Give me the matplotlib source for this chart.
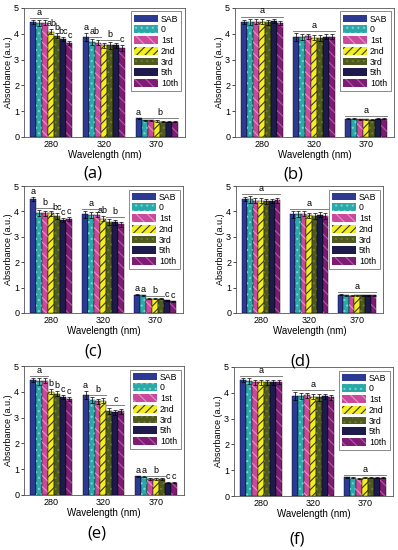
import numpy as np
import matplotlib
matplotlib.use("Agg")
import matplotlib.pyplot as plt

plt.rcParams['font.family'] = ['Liberation Sans', 'DejaVu Sans']
plt.rcParams['hatch.linewidth'] = 0.8

# Data
wavelengths = ['280', '320', '370']
series = ['SAB', '0', '1st', '2nd', '3rd', '5th', '10th']

# values[panel] -> rows = wavelength group, cols = series
vals_a = [[4.47, 4.42, 4.43, 4.08, 3.93, 3.80, 3.65],
          [3.88, 3.68, 3.66, 3.55, 3.55, 3.55, 3.45],
          [0.72, 0.65, 0.65, 0.62, 0.60, 0.60, 0.60]]
vals_b = [[4.47, 4.47, 4.47, 4.47, 4.45, 4.48, 4.42],
          [3.88, 3.87, 3.90, 3.85, 3.85, 3.88, 3.88],
          [0.70, 0.70, 0.68, 0.68, 0.66, 0.70, 0.70]]
vals_c = [[4.48, 3.92, 3.92, 3.92, 3.82, 3.65, 3.70],
          [3.88, 3.87, 3.87, 3.72, 3.57, 3.57, 3.50],
          [0.72, 0.70, 0.57, 0.57, 0.57, 0.50, 0.47]]
vals_d = [[4.48, 4.47, 4.42, 4.42, 4.40, 4.40, 4.43],
          [3.88, 3.88, 3.90, 3.85, 3.82, 3.87, 3.82],
          [0.72, 0.70, 0.68, 0.70, 0.70, 0.70, 0.70]]
vals_e = [[4.47, 4.40, 4.43, 4.00, 3.92, 3.80, 3.72],
          [3.88, 3.67, 3.63, 3.65, 3.27, 3.20, 3.25],
          [0.72, 0.70, 0.62, 0.62, 0.62, 0.48, 0.47]]
vals_f = [[4.48, 4.45, 4.40, 4.40, 4.40, 4.40, 4.42],
          [3.88, 3.88, 3.90, 3.85, 3.82, 3.87, 3.82],
          [0.72, 0.70, 0.66, 0.70, 0.70, 0.70, 0.70]]

# error bars (estimated)
errs = [[0.08, 0.12, 0.10, 0.10, 0.10, 0.08, 0.08],
        [0.15, 0.12, 0.10, 0.10, 0.12, 0.10, 0.10],
        [0.02, 0.02, 0.02, 0.02, 0.02, 0.02, 0.02]]

# significance letters: (group, first bar, last bar, letter)
sig_a = [(0, 0, 2, 'a'), (0, 3, 3, 'ab'), (0, 4, 4, 'b'), (0, 5, 5, 'bc'), (0, 6, 6, 'c'),
         (1, 0, 0, 'a'), (1, 1, 2, 'ab'), (1, 3, 5, 'b'), (1, 6, 6, 'c'),
         (2, 0, 0, 'a'), (2, 1, 6, 'b')]
sig_b = [(0, 0, 6, 'a'), (1, 0, 6, 'a'), (2, 0, 6, 'a')]
sig_c = [(0, 0, 0, 'a'), (0, 1, 3, 'b'), (0, 4, 4, 'bc'), (0, 5, 5, 'c'), (0, 6, 6, 'c'),
         (1, 0, 2, 'a'), (1, 3, 3, 'ab'), (1, 4, 6, 'b'),
         (2, 0, 0, 'a'), (2, 1, 1, 'a'), (2, 2, 4, 'b'), (2, 5, 5, 'c'), (2, 6, 6, 'c')]
sig_d = [(0, 0, 6, 'a'), (1, 0, 6, 'a'), (2, 0, 6, 'a')]
sig_e = [(0, 0, 2, 'a'), (0, 3, 3, 'b'), (0, 4, 4, 'b'), (0, 5, 5, 'c'), (0, 6, 6, 'c'),
         (1, 0, 0, 'a'), (1, 1, 3, 'b'), (1, 4, 6, 'c'),
         (2, 0, 0, 'a'), (2, 1, 1, 'a'), (2, 2, 4, 'b'), (2, 5, 5, 'c'), (2, 6, 6, 'c')]
sig_f = [(0, 0, 6, 'a'), (1, 0, 6, 'a'), (2, 0, 6, 'a')]

colors = ['#2c3a94', '#2aa9a9', '#c94a9c', '#f2ee22', '#4e5a1e', '#1d1a4c', '#7d1c72']
hatches = ['', '...', '\\\\\\', '////', '...', '', '\\\\\\']
hatch_colors = ['none', '#7fcfcf', '#e692c8', '#3a3a10', '#6e7a38', 'none', '#b05aa6']

W, H = 398, 550
fig = plt.figure(figsize=(W / 100, H / 100), dpi=100)

# (left, right, top, bottom) in pixels, caption (x, y)
panels = [
    (vals_a, sig_a, (24, 185, 8, 137), (93, 173), '(a)'),
    (vals_b, sig_b, (235, 394, 8, 137), (293, 175), '(b)'),
    (vals_c, sig_c, (24, 183, 186, 313), (93, 352), '(c)'),
    (vals_d, sig_d, (236, 383, 186, 313), (300, 362), '(d)'),
    (vals_e, sig_e, (24, 184, 366, 495), (97, 533), '(e)'),
    (vals_f, sig_f, (234, 393, 367, 496), (297, 540), '(f)'),
]

nser = len(series)
bw = 0.8 / nser
x = np.arange(len(wavelengths))

for vals, sig, (l, r, t, b), (cx, cy), cap in panels:
    ax = fig.add_axes([l / W, 1 - b / H, (r - l) / W, (b - t) / H])
    v = np.array(vals)
    e = np.array(errs)
    handles = []
    for j in range(nser):
        pos = x - 0.4 + bw * (j + 0.5)
        ax.bar(pos, v[:, j], bw, color=colors[j], edgecolor='black', linewidth=0.3)
        if hatches[j]:
            ax.bar(pos, v[:, j], bw, color='none', hatch=hatches[j],
                   edgecolor=hatch_colors[j], linewidth=0)
        ax.errorbar(pos, v[:, j], yerr=e[:, j], fmt='none', ecolor='black',
                    elinewidth=0.5, capsize=1.2, capthick=0.5)
        handles.append(plt.Rectangle((0, 0), 1, 1, facecolor=colors[j],
                                     hatch=hatches[j],
                                     edgecolor=hatch_colors[j] if hatches[j] else colors[j],
                                     linewidth=0))
    for g, i0, i1, letter in sig:
        top = max(v[g, k] + e[g, k] for k in range(i0, i1 + 1)) + 0.08
        p0 = x[g] - 0.4 + bw * (i0 + 0.5)
        p1 = x[g] - 0.4 + bw * (i1 + 0.5)
        if i1 > i0:
            ax.plot([p0 - bw * 0.5, p1 + bw * 0.5], [top, top], color='#808080', lw=0.7)
            ax.text((p0 + p1) / 2, top + 0.04, letter, ha='center', va='bottom', fontsize=6.5)
        else:
            ax.text(p0, top - 0.04, letter, ha='center', va='bottom', fontsize=6.5)
    ax.set_xlim(-0.52, 2.54)
    ax.set_ylim(0, 5)
    ax.set_xticks(x)
    ax.set_xticklabels(wavelengths)
    ax.set_yticks(range(6))
    ax.tick_params(labelsize=6.5, length=2, width=0.5, pad=1.5)
    ax.tick_params(axis='x', length=0, pad=2)
    for s in ax.spines.values():
        s.set_linewidth(0.6)
        s.set_color('#555555')
    ax.set_xlabel('Wavelength (nm)', fontsize=7, labelpad=1)
    ax.set_ylabel('Absorbance (a.u.)', fontsize=6.5, labelpad=1)
    leg = ax.legend(handles, series, loc='upper right', fontsize=6.3, frameon=True,
                    fancybox=False, handlelength=2.8, handleheight=1.0,
                    labelspacing=0.2, handletextpad=0.3, borderpad=0.35,
                    borderaxespad=0.4)
    leg.get_frame().set_edgecolor('#555555')
    leg.get_frame().set_linewidth(0.6)
    fig.text(cx / W, 1 - cy / H, cap, ha='center', va='center', fontsize=12,
             family=['Open Sans', 'DejaVu Sans'])

fig.savefig('out.png', dpi=100)
